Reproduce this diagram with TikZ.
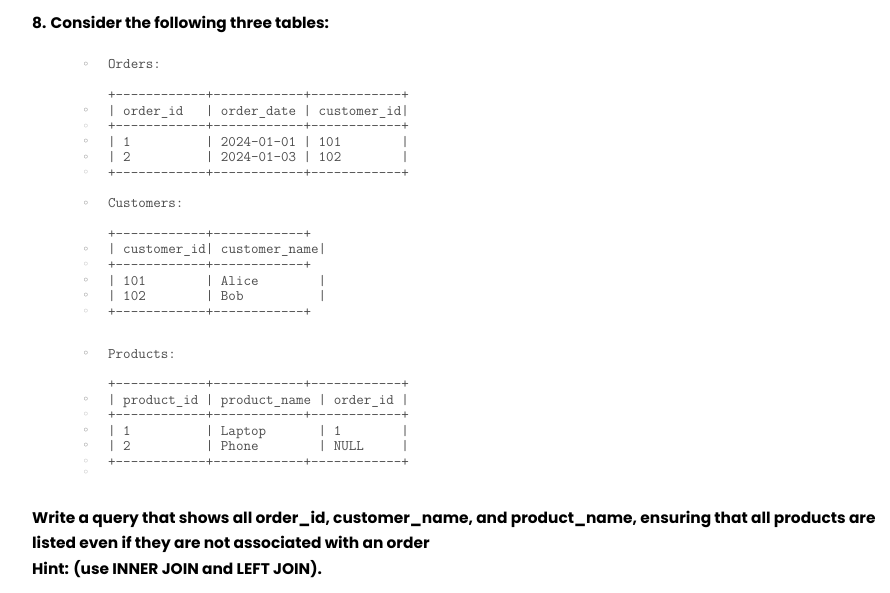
\documentclass[tikz,border=0pt]{standalone}
\usepackage{fontspec}
\setmainfont{Poppins}
\setmonofont{Latin Modern Mono}
\newfontfamily\dotfont{DejaVu Sans}
\usetikzlibrary{positioning}
\newcommand\seg{------------}
\tikzset{
    heading/.style = {
        font=\bfseries\fontsize{15.3}{18}\selectfont,
        anchor=base west,
        inner sep=0pt,
        },
    question/.style = {
        font=\bfseries\fontsize{15.4}{18}\selectfont,
        anchor=base west,
        inner sep=0pt,
        },
    ascii/.style = {
        font=\ttfamily\fontsize{14.6}{15.5}\selectfont,
        text=black!70,
        anchor=base west,
        inner sep=0pt,
        text height=10pt,
        text depth=2pt,
        },
    dot/.style = {
        font=\dotfont\fontsize{12}{12}\selectfont,
        text=black!55,
        inner sep=0pt,
        },
    faint dot/.style = {
        dot,
        text=black!30,
        },
}

\begin{document}
\begin{tikzpicture}[x=1pt,y=-1pt]
    \useasboundingbox[fill=white] (0,0) rectangle (890,593);
    \coordinate (dotcol) at (86,0);

    \node[heading] (title) at (32,28.5) {8. Consider the following three tables:};

    % Orders
    \node[ascii] (orders) at (108,69) {Orders:};
    \foreach \row [count=\i from 0] in {
        {+\seg+\seg+\seg+},
        {|~order\_id~~~|~order\_date~|~customer\_id|},
        {+\seg+\seg+\seg+},
        {|~1~~~~~~~~~~|~2024-01-01~|~101~~~~~~~~|},
        {|~2~~~~~~~~~~|~2024-01-03~|~102~~~~~~~~|},
        {+\seg+\seg+\seg+}}
        \node[ascii] (ord-\i) at (108,100+15.5*\i) {\row};

    % Customers
    \node[ascii] (customers) at (108,208) {Customers:};
    \foreach \row [count=\i from 0] in {
        {+\seg+\seg+},
        {|~customer\_id|~customer\_name|},
        {+\seg+\seg+},
        {|~101~~~~~~~~|~Alice~~~~~~~~|},
        {|~102~~~~~~~~|~Bob~~~~~~~~~~|},
        {+\seg+\seg+}}
        \node[ascii] (cus-\i) at (108,238.5+15.5*\i) {\row};

    % Products
    \node[ascii] (products) at (108,358) {Products:};
    \foreach \row [count=\i from 0] in {
        {+\seg+\seg+\seg+},
        {|~product\_id~|~product\_name~|~order\_id~|},
        {+\seg+\seg+\seg+},
        {|~1~~~~~~~~~~|~Laptop~~~~~~~|~1~~~~~~~~|},
        {|~2~~~~~~~~~~|~Phone~~~~~~~~|~NULL~~~~~|},
        {+\seg+\seg+\seg+}}
        \node[ascii] (pro-\i) at (108,388.5+15.5*\i) {\row};

    % bullets
    \foreach \t in {orders,customers,products}
        \node[dot] at (\t.west -| dotcol) {◦};
    \foreach \t in {ord,cus,pro}
        \foreach \i/\s in {1/dot,2/faint dot,3/dot,4/dot,5/faint dot}
            \node[\s] at (\t-\i.west -| dotcol) {◦};
    \node[faint dot, below=8pt of pro-5.west -| dotcol] (last) {◦};

    % question
    \node[question] (q1) at (32,523) {Write a query that shows all order\_id, customer\_name, and product\_name, ensuring that all products are};
    \node[question] (q2) at (32,548.5) {listed even if they are not associated with an order};
    \node[question] (q3) at (32,574) {Hint: (use INNER JOIN and LEFT JOIN).};
\end{tikzpicture}
\end{document}
